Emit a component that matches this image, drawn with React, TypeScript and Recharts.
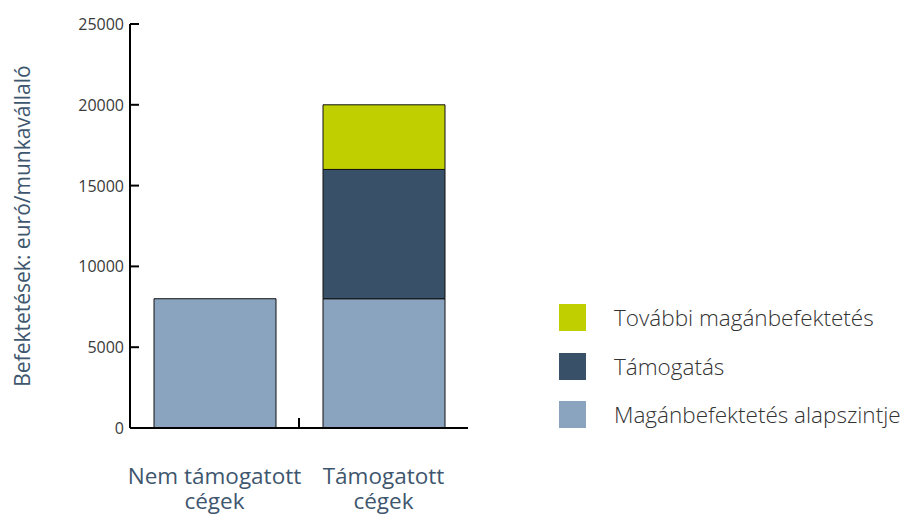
import { BarChart, Bar, XAxis, YAxis, Legend } from "recharts";

const categories = ["Nem támogatott cégek", "Támogatott cégek"];
const baseLevel = [8000, 8000];
const support = [null, 8000];
const furtherPrivate = [null, 4000];
const yTicks = [0, 5000, 10000, 15000, 20000, 25000];
// legend reads top to bottom
const legendOrder = ["További magánbefektetés", "Támogatás", "Magánbefektetés alapszintje"];

const BASE_COLOR = "#8AA3BF";
const SUPPORT_COLOR = "#385068";
const FURTHER_COLOR = "#BFCF00";
const LABEL_COLOR = "#3E566E";
const FONT = "'Open Sans', sans-serif";

const data = categories.map((name, i) => ({
  name,
  base: baseLevel[i],
  support: support[i],
  further: furtherPrivate[i],
}));

// plot area 130..468 wide, two categories
const HALF_BAND = (468 - 130) / categories.length / 2;

const YTick = ({ x, y, payload }: any) => (
  <g>
    <line x1={x + 6} x2={x + 15} y1={y} y2={y} stroke="#000" strokeWidth={2} />
    <text
      x={x}
      y={y}
      textAnchor="end"
      dominantBaseline="central"
      fill="#3a3a3a"
      fontSize={16}
      fontFamily={FONT}
    >
      {payload.value}
    </text>
  </g>
);

const XTick = ({ x, y, payload, index }: any) => {
  const words = String(payload.value).split(" ");
  const last = words.pop();
  const textProps = {
    x,
    textAnchor: "middle" as const,
    fill: LABEL_COLOR,
    fontSize: 22.5,
    fontFamily: FONT,
  };
  return (
    <g>
      {index === 0 && (
        <line
          x1={x + HALF_BAND}
          x2={x + HALF_BAND}
          y1={y}
          y2={y - 10}
          stroke="#000"
          strokeWidth={2}
        />
      )}
      <text {...textProps} y={y + 56}>
        {words.join(" ")}
      </text>
      <text {...textProps} y={y + 81}>
        {last}
      </text>
    </g>
  );
};

const YLabel = ({ viewBox }: any) => {
  const cy = viewBox.y + viewBox.height / 2;
  return (
    <text
      x={22}
      y={cy}
      transform={`rotate(-90, 22, ${cy})`}
      textAnchor="middle"
      dominantBaseline="central"
      fill={LABEL_COLOR}
      fontSize={21}
      fontFamily={FONT}
    >
      Befektetések: euró/munkavállaló
    </text>
  );
};

const LegendContent = ({ payload }: any) => {
  const items = [...(payload || [])].sort(
    (a: any, b: any) => legendOrder.indexOf(a.value) - legendOrder.indexOf(b.value)
  );
  return (
    <div style={{ fontFamily: FONT }}>
      {items.map((item: any) => (
        <div
          key={item.value}
          style={{ display: "flex", alignItems: "center", height: 27, marginBottom: 21.5 }}
        >
          <div style={{ width: 27, height: 27, background: item.color, flexShrink: 0 }} />
          <span
            style={{
              marginLeft: 28,
              fontSize: 22.5,
              fontWeight: 300,
              color: "#333",
              whiteSpace: "nowrap",
            }}
          >
            {item.value}
          </span>
        </div>
      ))}
    </div>
  );
};

export default function App() {
  return (
    <div style={{ position: "absolute", left: 0, top: 0, background: "#fff" }}>
      <BarChart
        width={903}
        height={515}
        data={data}
        margin={{ top: 24, right: 435, bottom: 27, left: 10 }}
        barSize={122}
      >
        <XAxis
          dataKey="name"
          height={60}
          axisLine={{ stroke: "#000", strokeWidth: 2 }}
          tickLine={false}
          tickSize={0}
          tickMargin={0}
          tick={<XTick />}
          interval={0}
        />
        <YAxis
          width={120}
          domain={[0, 25000]}
          ticks={yTicks}
          axisLine={{ stroke: "#000", strokeWidth: 2 }}
          tickLine={false}
          tickSize={0}
          tickMargin={6}
          tick={<YTick />}
          label={<YLabel />}
        />
        <Legend
          layout="vertical"
          align="center"
          verticalAlign="middle"
          content={<LegendContent />}
          wrapperStyle={{ position: "absolute", left: 559, top: 304, width: 344 }}
        />
        <Bar
          dataKey="base"
          name="Magánbefektetés alapszintje"
          stackId="a"
          fill={BASE_COLOR}
          stroke="#111"
          strokeWidth={1}
          isAnimationActive={false}
        />
        <Bar
          dataKey="support"
          name="Támogatás"
          stackId="a"
          fill={SUPPORT_COLOR}
          stroke="#111"
          strokeWidth={1}
          isAnimationActive={false}
        />
        <Bar
          dataKey="further"
          name="További magánbefektetés"
          stackId="a"
          fill={FURTHER_COLOR}
          stroke="#111"
          strokeWidth={1}
          isAnimationActive={false}
        />
      </BarChart>
    </div>
  );
}
